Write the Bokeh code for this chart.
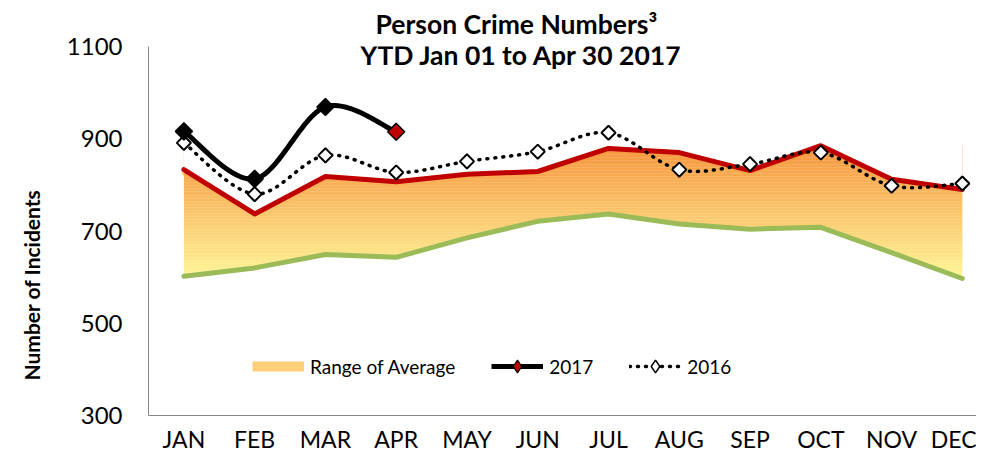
import numpy as np
from bokeh.plotting import figure
from bokeh.models import (Range1d, FixedTicker, Label, Legend, LegendItem,
                          Title)
from bokeh.embed import file_html
from bokeh.resources import INLINE

# ---------------- data ----------------
months = ["JAN", "FEB", "MAR", "APR", "MAY", "JUN",
          "JUL", "AUG", "SEP", "OCT", "NOV", "DEC"]
avg_high = [833, 737, 818, 807, 823, 829, 879, 870, 831, 885, 812, 790]
avg_low = [602, 620, 649, 643, 685, 721, 737, 715, 704, 708, 653, 597]
y2017 = [916, 813, 969, 915]
y2016 = [891, 780, 864, 827, 851, 872, 913, 833, 845, 870, 798, 803]
y_ticks = [300, 500, 700, 900, 1100]

FONT = "Lato"

x_all = np.arange(len(months))
x17 = np.arange(len(y2017))


def smooth(xs, ys, n=30):
    """Excel-style smoothed line (Bezier through points)."""
    xs = np.asarray(xs, float)
    ys = np.asarray(ys, float)
    P = np.column_stack([xs, ys])
    Pe = np.vstack([P[0], P, P[-1]])
    t = np.linspace(0, 1, n, endpoint=False)[:, None]
    out = []
    for i in range(len(P) - 1):
        p0, p1, p2, p3 = Pe[i], Pe[i + 1], Pe[i + 2], Pe[i + 3]
        c1 = p1 + (p2 - p0) / 6.0
        c2 = p2 - (p3 - p1) / 6.0
        seg = ((1 - t) ** 3) * p1 + 3 * ((1 - t) ** 2) * t * c1 + \
            3 * (1 - t) * t ** 2 * c2 + t ** 3 * p2
        out.append(seg)
    out.append(P[-1][None, :])
    out = np.vstack(out)
    return out[:, 0], out[:, 1]


p = figure(width=976, height=455, output_backend="svg", toolbar_location=None,
           x_range=Range1d(-0.5, 11.2), y_range=Range1d(300, 1100),
           min_border_left=145, min_border_right=0, min_border_top=46,
           min_border_bottom=37)
p.outline_line_color = None
p.xgrid.visible = False
p.ygrid.visible = False
p.background_fill_color = "white"
p.border_fill_color = "white"

hi = np.asarray(avg_high, float)
lo = np.asarray(avg_low, float)

# legend swatch proxy for the range (fully covered by the area drawn next)
swatch = p.line(x_all, hi, line_color="#FDCF78", line_width=10)

# ---------------- gradient area (range of average) ----------------
nb = 90
edges = np.linspace(lo.min(), hi.max(), nb + 1)
top_c = np.array([246, 148, 60])
bot_c = np.array([255, 246, 152])
cols = []
for k in range(nb):
    f = (k + 0.5) / nb
    c = bot_c + (top_c - bot_c) * f
    cols.append("#%02x%02x%02x" % tuple(int(round(v)) for v in c))
p.quad(left=x_all[0], right=x_all[-1], bottom=edges[:-1],
       top=edges[1:] + 0.6, fill_color=cols, line_color=None)
# white masks outside the band
p.varea(x=x_all, y1=hi, y2=1100, fill_color="white")
p.varea(x=x_all, y1=300, y2=lo, fill_color="white")

p.line(x_all, lo, line_color="#9BBB59", line_width=5, line_join="round",
       line_cap="round")
p.line(x_all, hi, line_color="#C00000", line_width=5, line_join="round",
       line_cap="round")

# ---------------- 2016 ----------------
sx16, sy16 = smooth(x_all, y2016)
l16 = p.line(sx16, sy16, line_color="black", line_width=3.5, line_dash="1 7",
             line_cap="round")
# legend marker proxy (hidden beneath the real markers)
lg16 = p.scatter(x_all, y2016, marker="diamond", size=8,
                 fill_color="white", line_color="black", line_width=1.5)
p.scatter(x_all, y2016, marker="square", angle=np.pi / 4, size=10,
          fill_color="white", line_color="black", line_width=2)

# ---------------- 2017 ----------------
sx17, sy17 = smooth(x17, y2017)
l17 = p.line(sx17, sy17, line_color="black", line_width=5, line_join="round")
lg17 = p.scatter(x17, y2017, marker="diamond", size=8,
                 fill_color="#C00000", line_color="black", line_width=1.2)
fc17 = ["#000000"] * (len(y2017) - 1) + ["#C00000"]
p.scatter(x17, y2017, marker="square", angle=np.pi / 4, size=12,
          fill_color=fc17, line_color="black", line_width=1.5)

# ---------------- legend ----------------
legend = Legend(items=[
    LegendItem(label="Range of Average", renderers=[swatch]),
    LegendItem(label="2017", renderers=[l17, lg17]),
    LegendItem(label="2016", renderers=[l16, lg16]),
], orientation="horizontal", location=(104, 33), padding=0, margin=0,
    spacing=36, glyph_width=52, glyph_height=32, label_standoff=6,
    background_fill_alpha=0, border_line_alpha=0,
    label_text_font=FONT, label_text_font_size="19px",
    label_text_color="#000000")
p.add_layout(legend)

# ---------------- axes ----------------
p.yaxis.ticker = FixedTicker(ticks=y_ticks)
p.yaxis.axis_line_color = "#868686"
p.yaxis.major_tick_line_color = None
p.yaxis.minor_tick_line_color = None
p.yaxis.major_tick_out = 0
p.yaxis.major_label_standoff = 26
p.yaxis.major_label_text_font = FONT
p.yaxis.major_label_text_font_size = "24px"
p.yaxis.major_label_text_color = "#000000"

p.xaxis.ticker = FixedTicker(ticks=list(x_all))
p.xaxis.major_label_overrides = {int(i): m for i, m in zip(x_all, months)}
p.xaxis.axis_line_color = "#868686"
p.xaxis.major_tick_line_color = None
p.xaxis.minor_tick_line_color = None
p.xaxis.major_tick_out = 0
p.xaxis.major_label_standoff = 9
p.xaxis.major_label_text_font = FONT
p.xaxis.major_label_text_font_size = "23px"
p.xaxis.major_label_text_color = "#000000"

# ---------------- titles ----------------
p.add_layout(Title(text="Person Crime Numbers\u00b3", align="left", offset=227,
                   vertical_align="top", text_font=FONT,
                   text_font_style="bold", text_font_size="26.5px",
                   text_color="#000000"), "above")
p.add_layout(Label(x=373, y=361, x_units="screen", y_units="screen",
                   text="YTD Jan 01 to Apr 30 2017", text_font=FONT,
                   text_font_style="bold", text_font_size="26.5px",
                   text_align="center", text_baseline="middle",
                   text_color="#000000"))
p.add_layout(Title(text="Number of Incidents", align="left", offset=35,
                   vertical_align="top", standoff=36,
                   text_font=FONT, text_font_style="bold",
                   text_font_size="21px", text_color="#000000"), "left")

open("out.html", "w").write(file_html(p, INLINE))
